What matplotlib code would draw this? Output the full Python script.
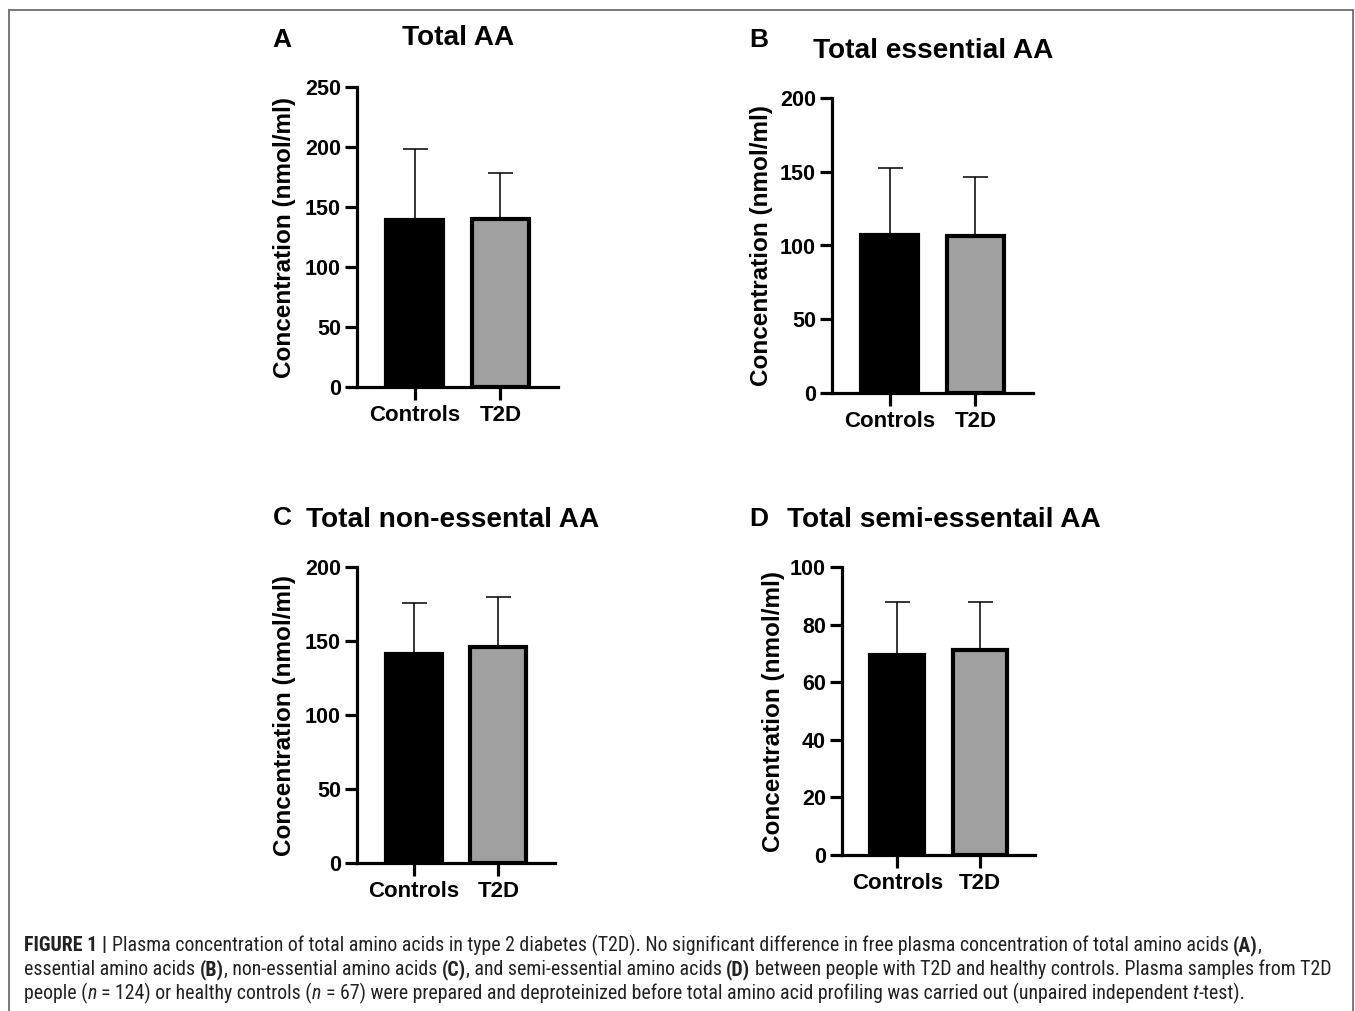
"""
Plasma concentration of total amino acids, controls vs T2D (4 panels),
recreated as a GraphPad-style bar figure with a caption underneath.
"""

import matplotlib
matplotlib.use("Agg")
import matplotlib.pyplot as plt
from matplotlib import font_manager
from matplotlib.lines import Line2D

# ----------------------------------------------------------------------
# Data
# ----------------------------------------------------------------------
GROUPS = ["Controls", "T2D"]

PANEL_LETTERS = ["A", "B", "C", "D"]
PANEL_TITLES = ["Total AA", "Total essential AA",
                "Total non-essental AA", "Total semi-essentail AA"]

MEAN_A = [139.5, 139.7]
SD_A = [58.5, 38.3]
MEAN_B = [107.0, 106.4]
SD_B = [45.3, 40.3]
MEAN_C = [141.0, 146.2]
SD_C = [34.5, 33.8]
MEAN_D = [69.4, 71.2]
SD_D = [18.3, 16.5]

YMAX = [250, 200, 200, 100]
YSTEP = [50, 50, 50, 20]

YLABEL = "Concentration (nmol/ml)"

# ----------------------------------------------------------------------
# Layout (pixels in a 1355 x 1011 image, origin top-left)
# ----------------------------------------------------------------------
W, H = 1355, 1011
# axes box: left, right, top (ymax), bottom (0)
AX_BOX = [(357, 558, 87, 387),
          (832, 1033, 98, 393),
          (357, 555, 567, 863),
          (842, 1035, 567, 855)]
LETTER_POS = [(272, 40), (749, 40), (273, 518), (749, 519)]
TITLE_POS = [(402, 38), (813, 51), (306, 520), (787, 520)]
YLABEL_POS = [(284, 238), (761, 245), (284, 716), (773, 711)]

BOLD = "Liberation Sans"
GREY = "#a0a0a0"


def px(x, y):
    return x / W, 1 - y / H


def draw_panel(fig, i, means, sds):
    l, r, t, b = AX_BOX[i]
    ax = fig.add_axes([l / W, 1 - b / H, (r - l) / W, (b - t) / H])
    xs = list(range(len(GROUPS)))
    ax.bar(xs, means, width=0.66, color=["black", GREY],
           edgecolor="black", linewidth=3.0, zorder=3)
    ax.errorbar(xs, means, yerr=[[0] * len(sds), sds], fmt="none",
                ecolor="black", elinewidth=1.1, capsize=9, capthick=1.1,
                zorder=2)
    ax.set_xlim(-0.67, 1.67)
    ax.set_ylim(0, YMAX[i])
    ax.set_yticks(range(0, YMAX[i] + 1, YSTEP[i]))
    ax.set_xticks(xs)
    ax.set_xticklabels(GROUPS)
    for s in ("top", "right"):
        ax.spines[s].set_visible(False)
    for s in ("left", "bottom"):
        ax.spines[s].set_linewidth(2.3)
    ax.tick_params(axis="y", length=8.5, width=2.3, pad=3, labelsize=15.5)
    ax.tick_params(axis="x", length=9, width=2.3, pad=4, labelsize=16)
    for lab in ax.get_xticklabels() + ax.get_yticklabels():
        lab.set_fontweight("bold")
        lab.set_family(BOLD)

    lx, ly = LETTER_POS[i]
    fig.text(*px(lx, ly), PANEL_LETTERS[i], fontsize=19, fontweight="bold",
             family=BOLD, ha="left", va="center")
    tx, ty = TITLE_POS[i]
    fig.text(*px(tx, ty), PANEL_TITLES[i], fontsize=20.2, fontweight="bold",
             family=BOLD, ha="left", va="center")
    yx, yy = YLABEL_POS[i]
    fig.text(*px(yx, yy), YLABEL, fontsize=17.5, fontweight="bold",
             family=BOLD, rotation=90, ha="center", va="center")
    return ax


# ----------------------------------------------------------------------
# Caption with mixed bold / italic runs
# ----------------------------------------------------------------------
CAPTION = [
    [("FIGURE 1 |", "bold", "normal"),
     (" Plasma concentration of total amino acids in type 2 diabetes (T2D). "
      "No significant difference in free plasma concentration of total "
      "amino acids ", "normal", "normal"),
     ("(A)", "bold", "normal"), (",", "normal", "normal")],
    [("essential amino acids ", "normal", "normal"),
     ("(B)", "bold", "normal"),
     (", non-essential amino acids ", "normal", "normal"),
     ("(C)", "bold", "normal"),
     (", and semi-essential amino acids ", "normal", "normal"),
     ("(D)", "bold", "normal"),
     (" between people with T2D and healthy controls. Plasma samples from "
      "T2D", "normal", "normal")],
    [("people (", "normal", "normal"), ("n", "normal", "italic"),
     (" = 124) or healthy controls (", "normal", "normal"),
     ("n", "normal", "italic"),
     (" = 67) were prepared and deproteinized before total amino acid "
      "profiling was carried out (unpaired independent ", "normal", "normal"),
     ("t", "normal", "italic"), ("-test).", "normal", "normal")],
]
CAPTION_X = 24
CAPTION_BASE = [951, 975, 999]
CAPTION_RIGHT = [1278, 1323, 1285]


def pick_caption_font():
    for name in ("Liberation Sans Narrow", "Roboto Condensed",
                 "Open Sans Condensed", "Liberation Sans"):
        try:
            font_manager.findfont(name, fallback_to_default=False)
            return name
        except Exception:
            continue
    return "DejaVu Sans"


def text_width(fig, rend, s, **kw):
    core = s.strip(" ")
    n_sp = len(s) - len(core)
    t = fig.text(0, 0, "a a", **kw)
    w_sp = t.get_window_extent(rend).width
    t.set_text("aa")
    w_sp -= t.get_window_extent(rend).width
    w = 0.0
    if core:
        t.set_text(core)
        w = t.get_window_extent(rend).width
    t.remove()
    return w + n_sp * w_sp, w_sp


def draw_caption(fig):
    rend = fig.canvas.get_renderer()
    family = pick_caption_font()

    def line_width(runs, size):
        tot = 0.0
        for s, wt, st in runs:
            w, _ = text_width(fig, rend, s, fontsize=size, fontweight=wt,
                              fontstyle=st, family=family)
            tot += w
        return tot

    ref = 10.0
    size = min(ref * (right - CAPTION_X) / line_width(runs, ref)
               for runs, right in zip(CAPTION, CAPTION_RIGHT))
    for runs, base in zip(CAPTION, CAPTION_BASE):
        x = CAPTION_X
        for s, wt, st in runs:
            w, w_sp = text_width(fig, rend, s, fontsize=size, fontweight=wt,
                                 fontstyle=st, family=family)
            lead = len(s) - len(s.lstrip(" "))
            fig.text(*px(x + lead * w_sp, base), s.strip(" "), fontsize=size,
                     fontweight=wt, fontstyle=st, family=family,
                     color="#222222", ha="left", va="baseline")
            x += w


def draw_frame(fig):
    c = "#707070"
    x0, x1, y0 = 9, 1353, 10
    fig.add_artist(Line2D([x0 / W, x1 / W], [1 - y0 / H] * 2, color=c,
                          linewidth=1.3, transform=fig.transFigure))
    for x in (x0, x1):
        fig.add_artist(Line2D([x / W] * 2, [1 - y0 / H, 0], color=c,
                              linewidth=1.3, transform=fig.transFigure))


if __name__ == "__main__":
    fig = plt.figure(figsize=(W / 100, H / 100), dpi=100)
    fig.patch.set_facecolor("white")

    data = [(MEAN_A, SD_A), (MEAN_B, SD_B), (MEAN_C, SD_C), (MEAN_D, SD_D)]
    for i, (m, sd) in enumerate(data):
        draw_panel(fig, i, m, sd)

    draw_caption(fig)
    draw_frame(fig)

    fig.savefig("out.png", dpi=100)
    plt.close(fig)
    print("wrote out.png")
